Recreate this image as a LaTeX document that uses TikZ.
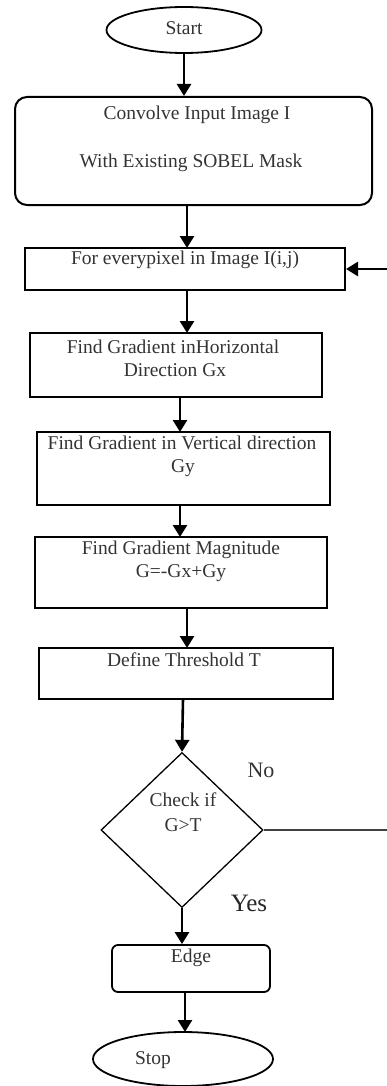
\documentclass[tikz,border=0pt]{standalone}
\usepackage{fontspec}
\setmainfont{Liberation Serif}
\usetikzlibrary{shapes.geometric,arrows.meta,positioning}

\tikzset{
  box/.style={draw, line width=2pt, inner sep=0pt},
  terminal/.style={draw, ellipse, line width=1.8pt, inner sep=0pt},
  decision/.style={draw, diamond, line width=1.3pt, inner sep=0pt},
  txt/.style={font=\fontsize{19.5}{24}\selectfont, text=black!80, align=center, inner sep=0pt},
  arr/.style={line width=2.6pt, -{Triangle[length=12pt,width=14pt]}},
}

\begin{document}
\begin{tikzpicture}[x=1pt, y=-1pt]
  \useasboundingbox (0,0) rectangle (387,1086);
  % terminals
  \node[terminal, minimum width=155pt, minimum height=46pt] (start) at (184,30) {};
  \node[txt] at (184,28) {Start};
  \node[terminal, minimum width=180pt, minimum height=54pt] (stop) at (183,1059) {};
  \node[txt] at (153,1060) {Stop};
  % process boxes
  \node[box, rounded corners=12pt, minimum width=357pt, minimum height=108pt] (conv) at (193.5,151) {};
  \node[txt] at (197,115) {Convolve Input Image I};
  \node[txt] at (191,163) {With Existing SOBEL Mask};
  \node[box, minimum width=320pt, minimum height=42pt] (pix) at (185,269) {};
  \node[txt] at (185,260) {For everypixel in Image I(i,j)};
  \node[box, minimum width=292pt, minimum height=64pt] (gx) at (176,365) {};
  \node[txt] at (173,347) {Find Gradient inHorizontal};
  \node[txt] at (175,370) {Direction Gx};
  \node[box, minimum width=293pt, minimum height=73pt] (gy) at (183.5,468.5) {};
  \node[txt] at (182,443) {Find Gradient in Vertical direction};
  \node[txt] at (183,468) {Gy};
  \node[box, minimum width=292pt, minimum height=71pt] (mag) at (181,572.5) {};
  \node[txt] at (181,550) {Find Gradient Magnitude};
  \node[txt] at (181,573) {G=-Gx+Gy};
  \node[box, minimum width=294pt, minimum height=51pt] (thr) at (186,673.5) {};
  \node[txt] at (184,660) {Define Threshold T};
  % decision
  \node[decision, minimum width=162pt, minimum height=155pt] (dia) at (182,830) {};
  \node[txt] at (183,800) {Check if};
  \node[txt] at (183,825) {G>T};
  \node[txt, font=\fontsize{22}{24}\selectfont] at (261,770) {No};
  \node[txt, font=\fontsize{25}{28}\selectfont, text=black!85] at (249,903) {Yes};
  \node[box, line width=1.8pt, rounded corners=6pt, minimum width=158pt, minimum height=47pt] (edge) at (191,968.5) {};
  \node[txt] at (191,958) {Edge};
  % connectors
  \draw[arr] (start.south) -- (start.south |- conv.north);
  \draw[arr] (187,205) -- (187,248);
  \draw[arr] (187,290) -- (187,333);
  \draw[arr] (180,397) -- (180,432);
  \draw[arr] (180,505) -- (180,537);
  \draw[arr] (187,608) -- (187,648);
  \draw[arr] (183,699) -- (dia.north);
  \draw[arr] (dia.south) -- (dia.south |- edge.north);
  \draw[arr] (185,992) -- (185,1032);
  % loop back
  \coordinate (back) at (387.5,830);
  \draw[line width=1.6pt, black!75] (dia.east) -- (back) -- (back |- pix.east);
  \draw[arr] (back |- pix.east) -- (pix.east);
\end{tikzpicture}
\end{document}
